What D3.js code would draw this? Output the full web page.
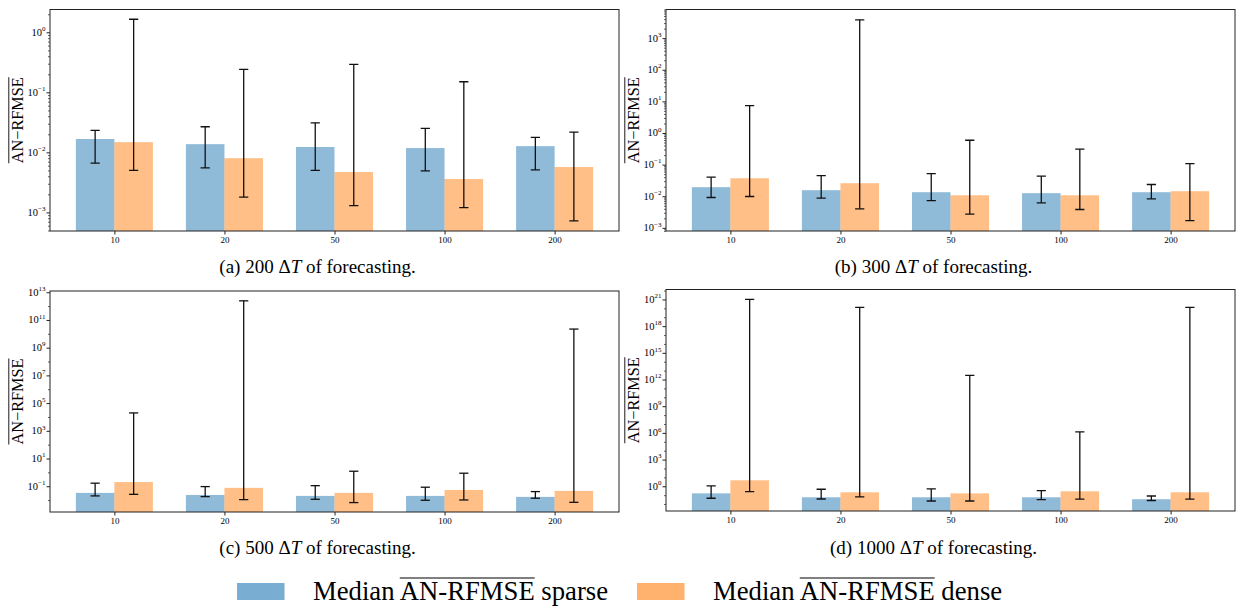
<!DOCTYPE html>
<html><head><meta charset="utf-8">
<script src="https://cdn.jsdelivr.net/npm/d3@7"></script>
<style>
html,body{margin:0;padding:0;background:#fff;}
svg text{font-family:"Liberation Serif","Times New Roman",serif;fill:#000;}
</style></head>
<body><svg id="c" width="1239" height="610"></svg>
<script>
// ---------- data ----------
const categories = ["10","20","50","100","200"];
const seriesNames = ["sparse","dense"];

// (a) 200 ΔT
const aSparse   = [0.0167, 0.0137, 0.0123, 0.0118, 0.0127];
const aSparseLo = [0.0066, 0.0055, 0.0050, 0.0049, 0.0051];
const aSparseHi = [0.0233, 0.0267, 0.0311, 0.0251, 0.0178];
const aDense    = [0.0148, 0.0080, 0.0047, 0.0036, 0.0057];
const aDenseLo  = [0.0050, 0.0018, 0.0013, 0.0012, 0.00072];
const aDenseHi  = [1.65, 0.241, 0.293, 0.150, 0.0218];

// (b) 300 ΔT
const bSparse   = [0.0193, 0.0155, 0.0134, 0.0125, 0.0134];
const bSparseLo = [0.0091, 0.0087, 0.0073, 0.0062, 0.0083];
const bSparseHi = [0.040, 0.045, 0.052, 0.043, 0.0235];
const bDense    = [0.037, 0.0258, 0.0107, 0.0107, 0.0144];
const bDenseLo  = [0.0098, 0.0040, 0.0027, 0.0038, 0.0017];
const bDenseHi  = [7.3, 3800, 0.59, 0.31, 0.108];

// (c) 500 ΔT
const cSparse   = [0.033, 0.0235, 0.020, 0.020, 0.017];
const cSparseLo = [0.020, 0.0178, 0.0114, 0.0097, 0.0136];
const cSparseHi = [0.166, 0.094, 0.11, 0.085, 0.041];
const cDense    = [0.20, 0.076, 0.033, 0.054, 0.046];
const cDenseLo  = [0.026, 0.0108, 0.0066, 0.0102, 0.0069];
const cDenseHi  = [19500, 2.4e12, 1.21, 0.87, 2.2e10];

// (d) 1000 ΔT
const dSparse   = [0.16, 0.058, 0.058, 0.058, 0.035];
const dSparseLo = [0.045, 0.037, 0.022, 0.032, 0.025];
const dSparseHi = [1.1, 0.46, 0.5, 0.33, 0.081];
const dDense    = [4.7, 0.21, 0.16, 0.27, 0.21];
const dDenseLo  = [0.25, 0.063, 0.022, 0.035, 0.035];
const dDenseHi  = [1e21, 1.3e20, 3e12, 1.3e6, 1.3e20];

// y tick exponents (labels) per panel
const aTicks = [-3, -2, -1, 0];
const bTicks = [-3, -2, -1, 0, 1, 2, 3];
const cTicks = [-1, 1, 3, 5, 7, 9, 11, 13];
const dTicks = [0, 3, 6, 9, 12, 15, 18, 21];

const captionsTxt = ["(a) 200 ", "(b) 300 ", "(c) 500 ", "(d) 1000 "];
const legendLabels = ["sparse", "dense"];

// ---------- layout / style ----------
const colBar = ["rgba(31,119,180,0.5)", "rgba(255,127,14,0.5)"];
const colLegend = ["rgba(31,119,180,0.6)", "rgba(255,127,14,0.6)"];

const panels = [
  {sp:aSparse, spLo:aSparseLo, spHi:aSparseHi, de:aDense, deLo:aDenseLo, deHi:aDenseHi, ticks:aTicks, minor:true,
   x0:50, x1:619, y0:9.5, y1:231, lo:-3.31, hi:0.38, cap:captionsTxt[0], capY:273},
  {sp:bSparse, spLo:bSparseLo, spHi:bSparseHi, de:bDense, deLo:bDenseLo, deHi:bDenseHi, ticks:bTicks, minor:true,
   x0:666, x1:1235, y0:9.5, y1:231, lo:-3.10, hi:3.906, cap:captionsTxt[1], capY:273},
  {sp:cSparse, spLo:cSparseLo, spHi:cSparseHi, de:cDense, deLo:cDenseLo, deHi:cDenseHi, ticks:cTicks, minor:false,
   x0:50, x1:619, y0:291, y1:512, lo:-2.86, hi:13.09, cap:captionsTxt[2], capY:554},
  {sp:dSparse, spLo:dSparseLo, spHi:dSparseHi, de:dDense, deLo:dDenseLo, deHi:dDenseHi, ticks:dTicks, minor:false,
   x0:666, x1:1235, y0:289.5, y1:511, lo:-2.78, hi:22.12, cap:captionsTxt[3], capY:554}
];

const svg = d3.select("#c");
const bw = 0.35;

panels.forEach(p => {
  const x = d3.scaleLinear().domain([-0.585, 4.585]).range([p.x0, p.x1]);
  const y = d3.scaleLog().domain([Math.pow(10, p.lo), Math.pow(10, p.hi)]).range([p.y1, p.y0]);
  const g = svg.append("g");
  const clipId = "clip" + p.x0 + "_" + Math.round(p.y0);
  g.append("clipPath").attr("id", clipId).append("rect")
    .attr("x", p.x0).attr("y", p.y0).attr("width", p.x1 - p.x0).attr("height", p.y1 - p.y0);
  const plot = g.append("g").attr("clip-path", `url(#${clipId})`);

  const sets = [
    {v:p.sp, lo:p.spLo, hi:p.spHi, off:-bw, col:colBar[0]},
    {v:p.de, lo:p.deLo, hi:p.deHi, off:0, col:colBar[1]}
  ];
  sets.forEach(s => {
    plot.selectAll(null).data(categories).enter().append("rect")
      .attr("x", (d,i) => x(i + s.off))
      .attr("width", (d,i) => x(i + s.off + bw) - x(i + s.off))
      .attr("y", (d,i) => y(s.v[i]))
      .attr("height", (d,i) => p.y1 - y(s.v[i]))
      .attr("fill", s.col);
  });
  sets.forEach(s => {
    const eg = plot.selectAll(null).data(categories).enter().append("g")
      .attr("stroke", "#111").attr("stroke-width", 1.3).attr("fill", "none");
    eg.append("line")
      .attr("x1", (d,i) => x(i + s.off + bw/2)).attr("x2", (d,i) => x(i + s.off + bw/2))
      .attr("y1", (d,i) => y(s.lo[i])).attr("y2", (d,i) => y(s.hi[i]));
    ["lo","hi"].forEach(k => {
      eg.append("line")
        .attr("x1", (d,i) => x(i + s.off + bw/2) - 4.6).attr("x2", (d,i) => x(i + s.off + bw/2) + 4.6)
        .attr("y1", (d,i) => y(s[k][i])).attr("y2", (d,i) => y(s[k][i]));
    });
  });

  // frame
  g.append("rect").attr("x", p.x0).attr("y", p.y0).attr("width", p.x1 - p.x0).attr("height", p.y1 - p.y0)
    .attr("fill", "none").attr("stroke", "#222").attr("stroke-width", 1);

  // x axis
  const xa = d3.axisBottom(x).tickValues(d3.range(categories.length)).tickFormat(i => categories[i])
    .tickSize(3.5).tickPadding(2.5);
  const xg = g.append("g").attr("transform", `translate(0,${p.y1})`).call(xa);
  xg.select(".domain").remove();
  xg.selectAll("line").attr("stroke", "#222");
  xg.selectAll("text").attr("font-size", 9).attr("font-family", "Liberation Serif").attr("fill", "#000");

  // y axis (major)
  const yvals = p.ticks.map(e => Math.pow(10, e));
  const ya = d3.axisLeft(y).tickValues(yvals).tickFormat("").tickSize(3.5);
  const yg = g.append("g").attr("transform", `translate(${p.x0},0)`).call(ya);
  yg.select(".domain").remove();
  yg.selectAll("line").attr("stroke", "#222");
  // labels with superscripts
  p.ticks.forEach(e => {
    const t = g.append("text").attr("x", p.x0 - 4.5).attr("y", y(Math.pow(10, e)) + 3.5)
      .attr("text-anchor", "end").attr("font-size", 10.5);
    t.append("tspan").text("10");
    t.append("tspan").attr("dy", -4.8).attr("font-size", 7).text(e < 0 ? "\u2212" + (-e) : String(e));
  });
  // minor ticks
  let minors = [];
  if (p.minor) {
    for (let e = Math.floor(p.lo); e <= Math.ceil(p.hi); e++)
      for (let k = 2; k <= 9; k++) {
        const v = k * Math.pow(10, e);
        if (Math.log10(v) >= p.lo && Math.log10(v) <= p.hi) minors.push(v);
      }
  } else {
    for (let e = Math.ceil(p.lo); e <= Math.floor(p.hi); e++)
      if (!p.ticks.includes(e)) minors.push(Math.pow(10, e));
  }
  const ym = d3.axisLeft(y).tickValues(minors).tickFormat("").tickSize(2);
  const ymg = g.append("g").attr("transform", `translate(${p.x0},0)`).call(ym);
  ymg.select(".domain").remove();
  ymg.selectAll("line").attr("stroke", "#222").attr("stroke-width", 0.7);

  // y label with overline
  const cy = (p.y0 + p.y1) / 2;
  const lx = p.x0 - 27;
  const lg = g.append("g").attr("transform", `translate(${lx},${cy}) rotate(-90)`);
  const lt = lg.append("text").attr("text-anchor", "middle").attr("font-size", 16.3).text("AN\u2212RFMSE");
  const lw = lt.node().getComputedTextLength();
  lg.append("line").attr("x1", -lw/2).attr("x2", lw/2).attr("y1", -14.2).attr("y2", -14.2)
    .attr("stroke", "#000").attr("stroke-width", 0.9);

  // caption
  const ct = svg.append("text").attr("x", (p.x0 + p.x1) / 2 - 17).attr("y", p.capY)
    .attr("text-anchor", "middle").attr("font-size", 19);
  ct.append("tspan").text(p.cap + "\u0394");
  ct.append("tspan").attr("font-style", "italic").text("T");
  ct.append("tspan").text(" of forecasting.");
});

// legend
const legX = [237, 637];
legendLabels.forEach((lab, i) => {
  svg.append("rect").attr("x", legX[i]).attr("y", 583).attr("width", 47.5).attr("height", 17)
    .attr("fill", colLegend[i]);
  const t = svg.append("text").attr("x", legX[i] + 76).attr("y", 600).attr("font-size", 26.7);
  const t1 = t.append("tspan").text("Median ");
  const t2 = t.append("tspan").text("AN-RFMSE");
  t.append("tspan").text(" " + lab);
  const w1 = t1.node().getComputedTextLength();
  const w2 = t2.node().getComputedTextLength();
  svg.append("line").attr("x1", legX[i] + 76 + w1).attr("x2", legX[i] + 76 + w1 + w2)
    .attr("y1", 578).attr("y2", 578).attr("stroke", "#000").attr("stroke-width", 1.2);
});
</script></body></html>
